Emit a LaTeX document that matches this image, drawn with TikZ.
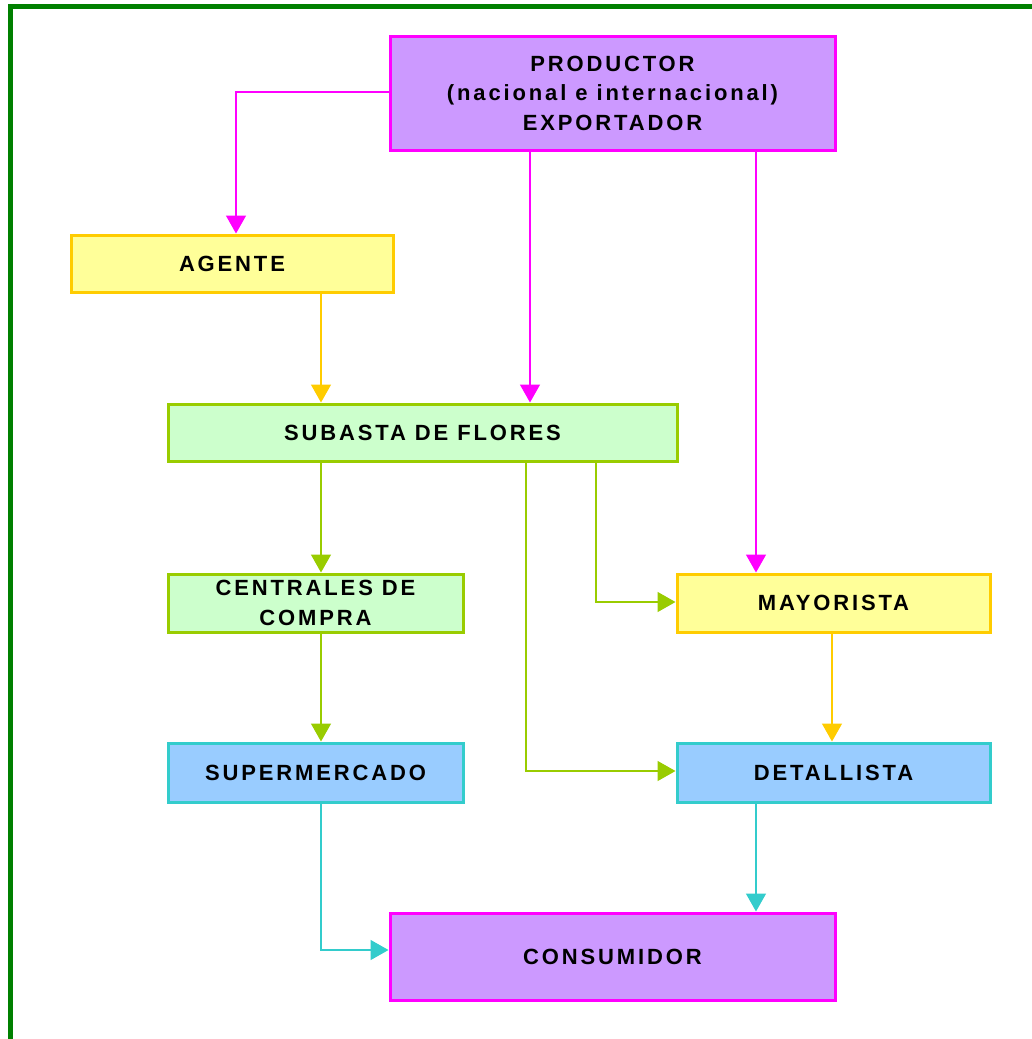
\documentclass[tikz,border=0pt]{standalone}
\usepackage{fontspec}
\setmainfont{Liberation Sans}[LetterSpace=13]
\usetikzlibrary{arrows.meta}

\definecolor{frameg}{RGB}{0,128,0}
\definecolor{magline}{RGB}{255,0,255}
\definecolor{lilac}{RGB}{204,153,255}
\definecolor{paleyellow}{RGB}{255,255,153}
\definecolor{gold}{RGB}{255,204,0}
\definecolor{palegreen}{RGB}{204,255,204}
\definecolor{leaf}{RGB}{153,204,0}
\definecolor{paleblue}{RGB}{153,204,255}
\definecolor{teal2}{RGB}{51,204,204}

\tikzset{
  box/.style={draw, line width=3pt, inner sep=0pt, align=center,
    font=\fontsize{22}{29.5}\selectfont\bfseries},
  purplebox/.style={box, draw=magline, fill=lilac},
  yellowbox/.style={box, draw=gold, fill=paleyellow},
  greenbox/.style={box, draw=leaf, fill=palegreen},
  bluebox/.style={box, draw=teal2, fill=paleblue},
  link/.style={line width=1.5pt, -{Triangle[width=20pt,length=18pt]}},
}

\begin{document}
\begin{tikzpicture}[x=1pt, y=-1pt]
\useasboundingbox (0,0) rectangle (1032,1039);

% outer frame (left and top edges)
\draw[frameg, line width=5pt] (10.5,1039) -- (10.5,6.5) -- (1032,6.5);

% boxes
\node[purplebox, minimum width=445pt, minimum height=114pt] (prod) at (612.5,93)
  {PRODUCTOR\\(nacional e internacional)\\EXPORTADOR};
\node[yellowbox, minimum width=322pt, minimum height=57pt] (agente) at (232,263.5) {AGENTE};
\node[greenbox, minimum width=509pt, minimum height=57pt] (sub) at (422.5,432.5) {SUBASTA DE FLORES};
\node[greenbox, minimum width=295pt, minimum height=58pt] (cen) at (315.5,603) {CENTRALES DE\\COMPRA};
\node[yellowbox, minimum width=313pt, minimum height=58pt] (may) at (833.5,603) {MAYORISTA};
\node[bluebox, minimum width=295pt, minimum height=59pt] (sup) at (315.5,772.5) {SUPERMERCADO};
\node[bluebox, minimum width=313pt, minimum height=59pt] (det) at (833.5,772.5) {DETALLISTA};
\node[purplebox, minimum width=445pt, minimum height=87pt] (cons) at (612.5,956.5) {CONSUMIDOR};

% from the producer
\draw[link, magline] ([yshift=1pt]prod.west) -| ([xshift=4pt]agente.north);
\draw[link, magline] ([xshift=-82.5pt]prod.south) coordinate (p1) -- (p1 |- sub.north);
\draw[link, magline] ([xshift=143.5pt]prod.south) coordinate (p2) -- (p2 |- may.north);

% agent to auction
\draw[link, gold] ([xshift=89pt]agente.south) coordinate (a1) -- (a1 |- sub.north);

% from the auction
\draw[link, leaf] ([xshift=-101.5pt]sub.south) coordinate (s1) -- (s1 |- cen.north);
\draw[link, leaf] ([xshift=103.5pt]sub.south) coordinate (s2) |- ([yshift=1.5pt]det.west);
\draw[link, leaf] ([xshift=173.5pt]sub.south) coordinate (s3) |- ([yshift=1pt]may.west);

% purchasing centres to supermarket
\draw[link, leaf] ([xshift=5.5pt]cen.south) coordinate (c1) -- (c1 |- sup.north);

% wholesaler to retailer
\draw[link, gold] ([xshift=-1.5pt]may.south) coordinate (m1) -- (m1 |- det.north);

% to the consumer
\draw[link, teal2] ([xshift=5.5pt]sup.south) coordinate (u1) |- ([yshift=6.5pt]cons.west);
\draw[link, teal2] ([xshift=-77.5pt]det.south) coordinate (d1) -- (d1 |- cons.north);
\end{tikzpicture}
\end{document}
